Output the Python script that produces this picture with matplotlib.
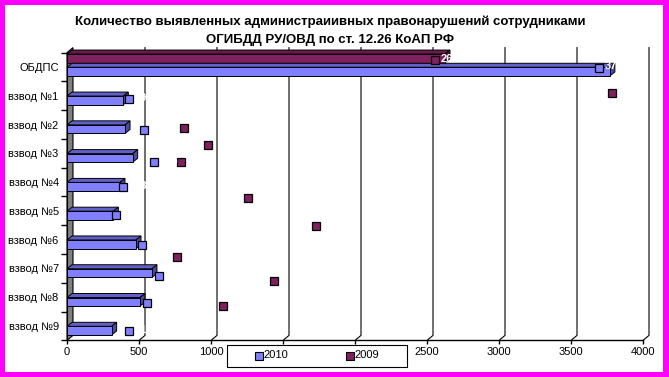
import matplotlib
matplotlib.use("Agg")
import matplotlib.pyplot as plt
from matplotlib.patches import Polygon, Rectangle
from matplotlib.lines import Line2D

plt.rcParams["font.family"] = ["Liberation Sans", "DejaVu Sans"]

# --- data ---
categories = ["ОБДПС", "взвод №1", "взвод №2", "взвод №3", "взвод №4",
              "взвод №5", "взвод №6", "взвод №7", "взвод №8", "взвод №9"]
bars_2010 = [3770, 391, 403, 456, 368, 322, 479, 590, 507, 310]
bars_2009 = [2625]          # only ОБДПС shows a 2009 bar
# data-label keys, as they ended up on the sheet
keys_2010_x = [3694, 431, 535, 604, 389, 340, 521, 639, 556, 431]
keys_2010_y = [0.03, 1.11, 2.19, 3.30, 4.17, 5.14, 6.18, 7.26, 8.19, 9.17]
keys_2009_x = [2556, 3785, 813, 979, 792, 1257, 1729, 764, 1438, 1083]
keys_2009_y = [-0.24, 0.90, 2.12, 2.71, 3.30, 4.55, 5.52, 6.60, 7.43, 8.30]
xticks = [0, 500, 1000, 1500, 2000, 2500, 3000, 3500, 4000]
xtick_labels = ["0", "500", "1000", "", "", "2500", "3000", "3500", "4000"]  # 1500/2000 sit under the legend

BLUE, BLUE_TOP, BLUE_SIDE = "#8080ff", "#6060c8", "#4a4aa0"
MAROON, MAROON_TOP, MAROON_SIDE = "#80205f", "#6a1a50", "#501040"

W, H = 669, 377
fig = plt.figure(figsize=(W / 100, H / 100), dpi=100, facecolor="#ff00ff")
fig.add_artist(Rectangle((5 / W, 5 / H), 658 / W, 367 / H, transform=fig.transFigure,
                         facecolor="white", edgecolor="none", zorder=-10))

ax = fig.add_axes([67 / W, (H - 340.4) / H, 576 / W, 287.8 / H])
ax.set_xlim(0, 4000)
ax.set_ylim(9.5, -0.5)
ax.patch.set_alpha(0)

# 3d offsets (data units)
GX, GY = 6 / 0.144, -5 / 28.8
BX, BY = 5 / 0.144, -4 / 28.8

# back wall + gridlines
ax.add_patch(Polygon([(0, -0.5), (GX, -0.5 + GY), (GX, 9.5 + GY), (0, 9.5)],
                     closed=True, facecolor="#808080", edgecolor="black", lw=0.8,
                     clip_on=False, zorder=1))
for v in xticks[1:]:
    ax.plot([v + GX, v + GX, v], [-0.5 + GY, 9.5 + GY, 9.5], color="black",
            lw=0.8, clip_on=False, zorder=1)


def bar3d(yc, w, h, face, top, side):
    yt, yb = yc - h / 2, yc + h / 2
    polys = [
        ([(0, yt), (BX, yt + BY), (w + BX, yt + BY), (w, yt)], top),
        ([(w, yt), (w + BX, yt + BY), (w + BX, yb + BY), (w, yb)], side),
        ([(0, yt), (w, yt), (w, yb), (0, yb)], face),
    ]
    for pts, c in polys:
        ax.add_patch(Polygon(pts, closed=True, facecolor=c, edgecolor="black",
                             lw=0.7, clip_on=False, zorder=3))


for i, v in enumerate(bars_2009):
    bar3d(i - 0.3, v, 0.3, MAROON, MAROON_TOP, MAROON_SIDE)
for i, v in enumerate(bars_2010):
    bar3d(i + 0.16, v, 0.3, BLUE, BLUE_TOP, BLUE_SIDE)

# label keys and (white) label texts
ax.plot(keys_2010_x, keys_2010_y, ls="none", marker="s", ms=6.2, mfc=BLUE,
        mec="black", mew=0.9, clip_on=False, zorder=4)
ax.plot(keys_2009_x, keys_2009_y, ls="none", marker="s", ms=6.2, mfc=MAROON,
        mec="black", mew=0.9, clip_on=False, zorder=4)
for x, y, v in zip(keys_2010_x, keys_2010_y, bars_2010):
    ax.annotate(str(v), (x, y), xytext=(4, 1), textcoords="offset points",
                color="white", fontsize=8, fontweight="bold", va="center",
                annotation_clip=False, zorder=5)
ax.annotate(str(bars_2009[0]), (keys_2009_x[0], keys_2009_y[0]), xytext=(4, 1),
            textcoords="offset points", color="white", fontsize=8,
            fontweight="bold", va="center", annotation_clip=False, zorder=5)

# axes
for s in ["top", "right"]:
    ax.spines[s].set_visible(False)
ax.spines["bottom"].set_linewidth(1.0)
ax.spines["left"].set_linewidth(0.8)
ax.set_xticks(xticks)
ax.set_xticklabels(xtick_labels, fontsize=8)
ax.tick_params(axis="x", length=3, width=1, pad=2)
ax.set_yticks(range(len(categories)))
ax.set_yticklabels(categories, fontsize=8)
ax.tick_params(axis="y", length=0, pad=6)
ax.set_yticks([i - 0.5 for i in range(len(categories) + 1)], minor=True)
ax.tick_params(axis="y", which="minor", length=4, width=1)

# title
fig.text(0.494, 1 - 22 / H, "Количество выявленных администраиивных правонарушений сотрудниками",
         ha="center", va="center", fontsize=9.5, fontweight="bold")
fig.text(0.494, 1 - 40 / H, "ОГИБДД РУ/ОВД по ст. 12.26 КоАП РФ",
         ha="center", va="center", fontsize=9.5, fontweight="bold")

# legend
fig.add_artist(Rectangle((227 / W, (H - 367) / H), 180 / W, 22 / H,
                         transform=fig.transFigure, facecolor="white",
                         edgecolor="black", lw=0.8, zorder=5))
fig.add_artist(Line2D([259 / W], [(H - 356) / H], transform=fig.transFigure,
                      marker="s", ms=5.5, mfc=BLUE, mec="black", mew=0.8, zorder=6))
fig.text(263 / W, (H - 355) / H, "2010", fontsize=8, va="center", zorder=6)
fig.add_artist(Line2D([350 / W], [(H - 356) / H], transform=fig.transFigure,
                      marker="s", ms=5.5, mfc=MAROON, mec="black", mew=0.8, zorder=6))
fig.text(354 / W, (H - 355) / H, "2009", fontsize=8, va="center", zorder=6)

fig.savefig("out.png", dpi=100, facecolor=fig.get_facecolor())
